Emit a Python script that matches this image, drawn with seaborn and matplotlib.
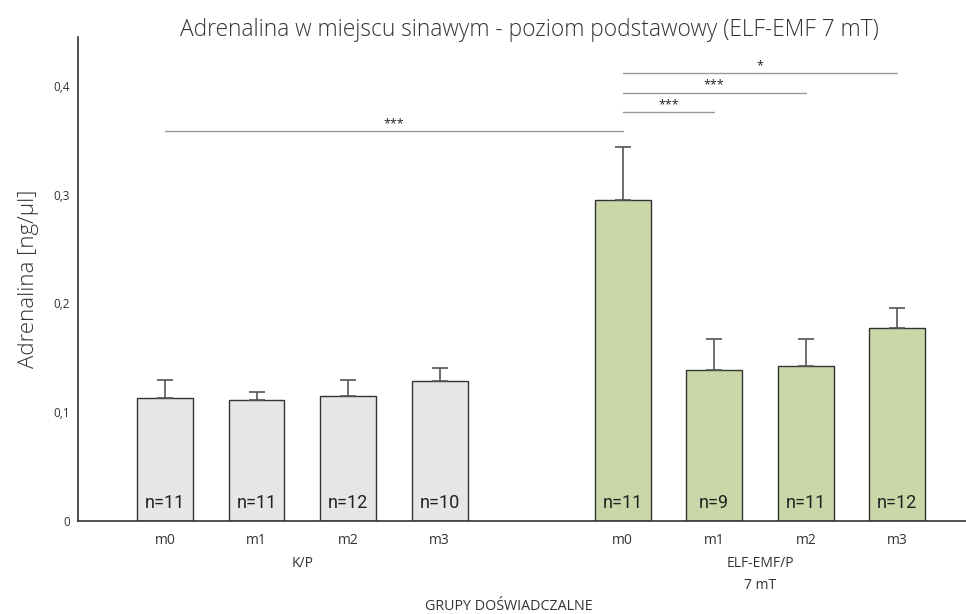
import numpy as np
import pandas as pd
import matplotlib
matplotlib.use("Agg")
import matplotlib.pyplot as plt
import seaborn as sns

# ---- data ----
groups = ["K/P", "K/P", "K/P", "K/P", "ELF", "ELF", "ELF", "ELF"]
tick_labels = ["m0", "m1", "m2", "m3", "m0", "m1", "m2", "m3"]
positions = [0, 1, 2, 3, 5, 6, 7, 8]
means = [0.113, 0.111, 0.115, 0.1285, 0.295, 0.139, 0.1425, 0.1775]
errors = [0.0167, 0.0076, 0.0142, 0.0122, 0.049, 0.0282, 0.0248, 0.0181]
n_labels = ["n=11", "n=11", "n=12", "n=10", "n=11", "n=9", "n=11", "n=12"]
# significance brackets: (x_start, x_end, y, label)
sig_x1 = [0, 5, 5, 5]
sig_x2 = [5, 6, 7, 8]
sig_y = [0.3586, 0.376, 0.3938, 0.4117]
sig_text = ["***", "***", "***", "*"]

df = pd.DataFrame({"pos": positions, "mean": means, "group": groups})

sns.set_style("white")
plt.rcParams["font.family"] = ["Open Sans", "DejaVu Sans"]
narrow = ["Roboto", "Open Sans", "DejaVu Sans"]

fig = plt.figure(figsize=(9.66, 6.14), dpi=100)
ax = fig.add_axes([78 / 966, 1 - 521 / 614, 1 - 78 / 966, (521 - 37) / 614])

palette = {"K/P": "#e6e6e6", "ELF": "#cddfa0"}
sns.barplot(data=df, x="pos", y="mean", hue="group", palette=palette,
            native_scale=True, dodge=False, width=0.61, legend=False,
            edgecolor="#333333", linewidth=1.0, ax=ax, errorbar=None)

ax.errorbar(positions, means, yerr=[np.zeros(len(errors)), errors], fmt="none",
            ecolor="#555555", elinewidth=1.2, capsize=6, capthick=1.2, zorder=1)

ax.set_xlim(-0.95, 8.75)
ax.set_ylim(0, 0.445)
ax.set_yticks([0, 0.1, 0.2, 0.3, 0.4])
ax.set_yticklabels(["0", "0,1", "0,2", "0,3", "0,4"], fontsize=8.5, color="#333333")
ax.set_xticks(positions)
ax.set_xticklabels(tick_labels, fontsize=10, color="#333333")
ax.tick_params(axis="x", length=0, pad=9)
ax.tick_params(axis="y", direction="in", length=6, width=1, color="#333333", pad=6)
ax.set_xlabel("")
ax.set_ylabel("Adrenalina [ng/µl]", fontsize=16, color="#333333", labelpad=10,
              fontweight="light")

for s in ["top", "right"]:
    ax.spines[s].set_visible(False)
for s in ["left", "bottom"]:
    ax.spines[s].set_color("#333333")
    ax.spines[s].set_linewidth(1.2)

# n labels inside bars
for p, t in zip(positions, n_labels):
    ax.text(p, 0.0122, t, ha="center", va="baseline", fontsize=13, color="#222222",
            family=narrow)

# significance lines
for x1, x2, y, t in zip(sig_x1, sig_x2, sig_y, sig_text):
    ax.plot([x1, x2], [y, y], color="#999999", lw=1.0, clip_on=False)
    ax.text((x1 + x2) / 2, y + 0.001, t, ha="center", va="bottom", fontsize=9, color="#222222")

# group labels
ax.text(1.5, -0.039, "K/P", ha="center", va="center", fontsize=10, color="#333333")
ax.text(6.5, -0.039, "ELF-EMF/P", ha="center", va="center", fontsize=10, color="#333333")
ax.text(6.5, -0.059, "7 mT", ha="center", va="center", fontsize=10, color="#333333")
ax.text(3.76, -0.0785, "GRUPY DOŚWIADCZALNE", ha="center", va="center", fontsize=10.3,
        color="#333333")

fig.text(0.548, 0.951, "Adrenalina w miejscu sinawym - poziom podstawowy (ELF-EMF 7 mT)",
         ha="center", va="center", fontsize=16.4, color="#333333", fontweight="light")

fig.savefig("out.png", dpi=100)
